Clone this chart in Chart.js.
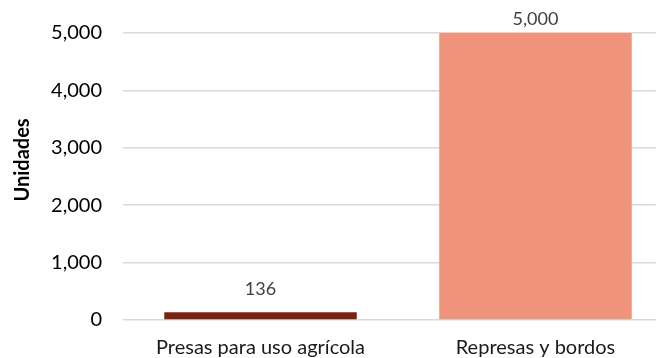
<!DOCTYPE html>
<html>
<head>
<meta charset="utf-8">
<script src="https://cdn.jsdelivr.net/npm/chart.js@4.4.1/dist/chart.umd.min.js"></script>
<style>
  html, body { margin: 0; padding: 0; background: #ffffff; overflow: hidden; }
  #wrap { width: 674px; height: 358px; position: relative; }
</style>
</head>
<body>
<div id="wrap"><canvas id="chart" width="674" height="358"></canvas></div>
<script>
// Categories and values
const categories = ['Presas para uso agrícola', 'Represas y bordos'];
const unidades = [136, 5000];
const barColors = ['#7A2312', '#F0937C'];
const yTicks = [0, 1000, 2000, 3000, 4000, 5000];
const yTitle = 'Unidades';

const FONT = 'Lato, "Open Sans", sans-serif';
const fmt = v => v.toLocaleString('en-US');

// Value labels above each bar, kept inside the canvas near the top
const valueLabels = {
  id: 'valueLabels',
  afterDatasetsDraw(chart) {
    const ctx = chart.ctx;
    const meta = chart.getDatasetMeta(0);
    ctx.save();
    ctx.font = '18px ' + FONT;
    ctx.fillStyle = '#404040';
    ctx.textAlign = 'center';
    ctx.textBaseline = 'alphabetic';
    meta.data.forEach((bar, i) => {
      ctx.fillText(fmt(unidades[i]), bar.x, Math.max(bar.y - 17, 25));
    });
    ctx.restore();
  }
};

// Rotated axis title
const axisTitle = {
  id: 'axisTitle',
  afterDraw(chart) {
    const ctx = chart.ctx;
    ctx.save();
    ctx.translate(23, 160);
    ctx.rotate(-Math.PI / 2);
    ctx.font = 'bold 20px ' + FONT;
    ctx.fillStyle = '#000000';
    ctx.textAlign = 'center';
    ctx.textBaseline = 'middle';
    ctx.fillText(yTitle, 0, 0);
    ctx.restore();
  }
};

new Chart(document.getElementById('chart'), {
  type: 'bar',
  data: {
    labels: categories,
    datasets: [{
      data: unidades,
      backgroundColor: barColors,
      borderWidth: 0,
      barPercentage: 0.70,
      categoryPercentage: 1.0
    }]
  },
  options: {
    responsive: false,
    animation: false,
    layout: { padding: { top: 31, right: 1, left: 0, bottom: 0 } },
    plugins: { legend: { display: false }, tooltip: { enabled: false } },
    scales: {
      x: {
        grid: { display: false },
        border: { display: false },
        ticks: { color: '#1a1a1a', font: { family: FONT, size: 20 }, padding: 8 },
        afterFit(scale) { scale.height = 38; }
      },
      y: {
        min: 0,
        max: 5000,
        afterBuildTicks(scale) { scale.ticks = yTicks.map(v => ({ value: v })); },
        grid: { color: '#D9D9D9', lineWidth: 1.5, drawTicks: false },
        border: { display: false },
        ticks: {
          color: '#000000',
          font: { family: FONT, size: 20 },
          padding: 21,
          callback: v => fmt(v)
        },
        afterFit(scale) { scale.width = 123; }
      }
    }
  },
  plugins: [valueLabels, axisTitle]
});
</script>
</body>
</html>
